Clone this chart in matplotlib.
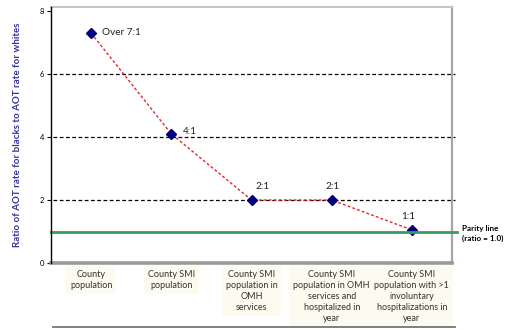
import matplotlib
matplotlib.use("Agg")
import matplotlib.pyplot as plt
from matplotlib.lines import Line2D

plt.rcParams['font.family'] = ['Lato', 'DejaVu Sans']

# Ratio of AOT rates (blacks vs whites) across population groups
categories = [
    "County\npopulation",
    "County SMI\npopulation",
    "County SMI\npopulation in\nOMH\nservices",
    "County SMI\npopulation in OMH\nservices and\nhospitalized in\nyear",
    "County SMI\npopulation with >1\ninvoluntary\nhospitalizations in\nyear",
]
ratios = [7.3, 4.1, 2.0, 2.0, 1.05]
ratio_labels = ["Over 7:1", "4:1", "2:1", "2:1", "1:1"]
parity = 1.0
yticks = [0, 2, 4, 6, 8]

# label offsets in pixels (dx, dy, ha)
label_offsets = [(11, 1, 'left'), (12, 2, 'left'), (11, 14, 'center'),
                 (1, 14, 'center'), (-4, 13, 'center')]

fig = plt.figure(figsize=(5.07, 3.30), dpi=100)
ax = fig.add_axes([51/507, 1-263/330, (452-51)/507, (263-7)/330])

x = list(range(len(categories)))

# gridlines
for yv in [2, 4, 6]:
    ax.axhline(yv, xmin=0.005, xmax=1.008, color='black', lw=0.9,
               linestyle=(0, (3, 2)), clip_on=False, zorder=1)

ax.plot(x, ratios, color='#e3262b', lw=1.0, linestyle=(0, (2, 1.6)), zorder=2)
ax.plot(x, ratios, linestyle='none', marker='D', markersize=5.5,
        color='#000080', zorder=3)

# parity line
ax.axhline(parity, xmin=0, xmax=1.013, color='#3a9a64', lw=2.0,
           clip_on=False, zorder=4)
ax.annotate("Parity line\n(ratio = 1.0)", xy=(1.0, parity),
            xycoords=('axes fraction', 'data'), xytext=(10, -2),
            textcoords='offset pixels', ha='left', va='center',
            fontsize=5.9, fontweight='bold', linespacing=1.45)

for xi, yi, lab, (dx, dy, ha) in zip(x, ratios, ratio_labels, label_offsets):
    ax.annotate(lab, xy=(xi, yi), xytext=(dx, dy), textcoords='offset pixels',
                ha=ha, va='center', fontsize=7.2, color='#222222')

ax.set_xlim(-0.5, 4.5)
ax.set_ylim(0, 8.13)
ax.set_yticks(yticks)
ax.set_xticks([])
ax.tick_params(axis='y', labelsize=5.5, length=3, width=0.8, pad=2)

ax.spines['left'].set_color('black')
ax.spines['left'].set_linewidth(1.0)
ax.spines['left'].set_zorder(5)
ax.spines['top'].set_color('#c4c4c4')
ax.spines['top'].set_linewidth(1.5)
ax.spines['right'].set_color('#a6a6a6')
ax.spines['right'].set_linewidth(1.6)
ax.spines['bottom'].set_color('#9a9a9a')
ax.spines['bottom'].set_linewidth(2.6)

ax.set_ylabel("Ratio of AOT rate for blacks to AOT rate for whites",
              fontsize=7.0, fontweight='bold', color='#33339a', labelpad=13)

# category labels in boxes below the axis
for xi, cat in zip(x, categories):
    ax.annotate(cat, xy=(xi, 0), xycoords=('data', 'axes fraction'),
                xytext=(0, -7), textcoords='offset pixels', ha='center',
                va='top', fontsize=6.5, color='#333333', linespacing=1.3,
                bbox=dict(boxstyle='square,pad=0.45', fc='#fdfaef', ec='none'))

fig.add_artist(Line2D([53/507, 455/507], [1-327/330, 1-327/330],
                      color='#808080', lw=1.4))

fig.savefig("out.png", dpi=100)
